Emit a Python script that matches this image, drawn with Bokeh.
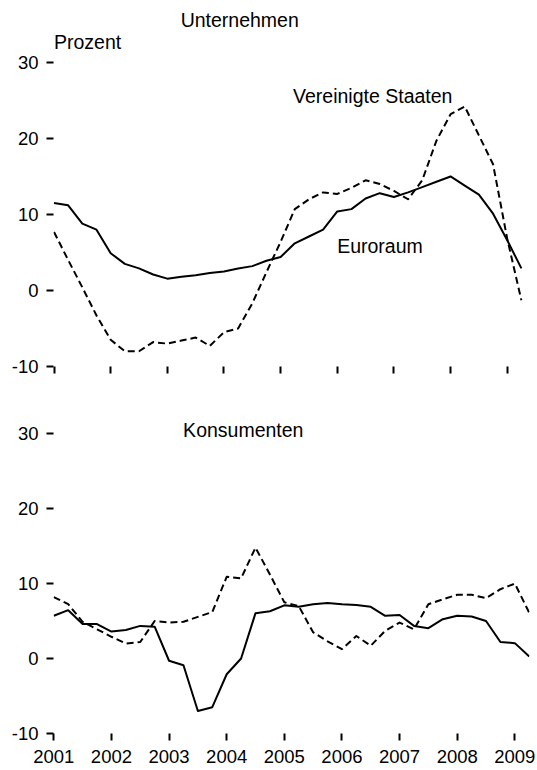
from bokeh.plotting import figure
from bokeh.layouts import column
from bokeh.models import Range1d, FixedTicker
from bokeh.core.properties import value
from bokeh.embed import file_html
from bokeh.resources import INLINE

# quarterly observation dates
quarters = [2001.0, 2001.25, 2001.5, 2001.75, 2002.0, 2002.25, 2002.5, 2002.75,
            2003.0, 2003.25, 2003.5, 2003.75, 2004.0, 2004.25, 2004.5, 2004.75,
            2005.0, 2005.25, 2005.5, 2005.75, 2006.0, 2006.25, 2006.5, 2006.75,
            2007.0, 2007.25, 2007.5, 2007.75, 2008.0, 2008.25, 2008.5, 2008.75,
            2009.0, 2009.25]

# Unternehmen (firms)
firms_euro = [11.5, 11.2, 8.8, 8.0, 4.9, 3.5, 2.9, 2.1,
              1.55, 1.8, 2.0, 2.3, 2.5, 2.9, 3.2, 3.9,
              4.4, 6.2, 7.1, 8.0, 10.4, 10.7, 12.1, 12.8,
              12.3, 12.9, 13.6, 14.3, 15.0, 13.8, 12.6, 10.1,
              6.6, 2.9]
firms_us = [7.7, 4.0, 0.4, -3.3, -6.5, -8.0, -8.0, -6.8,
            -7.0, -6.6, -6.2, -7.3, -5.5, -5.0, -1.7, 2.4,
            6.4, 10.7, 12.0, 12.9, 12.7, 13.5, 14.5, 14.0,
            13.1, 12.0, 14.5, 19.7, 23.2, 24.2, 20.4, 16.6,
            6.8, -1.3]

# Konsumenten (consumers)
cons_euro = [5.7, 6.45, 4.6, 4.6, 3.6, 3.8, 4.35, 4.25,
             -0.3, -0.9, -7.0, -6.5, -2.1, 0.0, 6.05, 6.3,
             7.1, 6.9, 7.25, 7.4, 7.25, 7.15, 6.9, 5.7,
             5.8, 4.35, 4.05, 5.25, 5.7, 5.6, 5.0, 2.2,
             2.05, 0.27]
cons_us = [8.2, 7.25, 4.9, 3.9, 2.9, 2.0, 2.2, 5.0,
           4.8, 4.9, 5.55, 6.2, 10.9, 10.7, 14.8, 11.2,
           7.5, 7.0, 3.5, 2.3, 1.25, 3.0, 1.7, 3.7,
           4.8, 3.9, 7.25, 7.9, 8.5, 8.5, 8.05, 9.25,
           10.0, 6.1]

year_ticks = [2001, 2002, 2003, 2004, 2005, 2006, 2007, 2008, 2009]
year_labels = ["2001", "2002", "2003", "2004", "2005", "2006", "2007", "2008", "2009"]
y_ticks = [-10, 0, 10, 20, 30]
y_labels = ["-10", "0", "10", "20", "30"]

TICK_FONT = "Liberation Sans"
TEXT_FONT = "Liberation Sans"


def make_fig(x_range, y_range, height, border_top, border_bottom, show_x_labels):
    p = figure(width=537, height=height, x_range=x_range, y_range=y_range,
               output_backend="svg", toolbar_location=None,
               min_border_left=53, min_border_right=8, min_border_top=border_top,
               min_border_bottom=border_bottom)
    p.outline_line_color = None
    p.grid.visible = False
    p.background_fill_color = "white"
    p.border_fill_color = "white"

    p.yaxis.ticker = FixedTicker(ticks=y_ticks)
    p.yaxis.major_label_overrides = {t: l for t, l in zip(y_ticks, y_labels)}
    p.xaxis.ticker = FixedTicker(ticks=year_ticks)
    p.xaxis.major_label_overrides = {t: (l if show_x_labels else "") for t, l in zip(year_ticks, year_labels)}
    for ax in (p.xaxis, p.yaxis):
        ax.axis_line_color = None
        ax.major_tick_in = 0
        ax.major_tick_out = 7
        ax.major_tick_line_width = 2
        ax.major_tick_line_color = "black"
        ax.minor_tick_line_color = None
        ax.major_label_text_font = TICK_FONT
        ax.major_label_text_font_size = "18.5px"
        ax.major_label_text_color = "black"
    p.yaxis.major_label_standoff = 8
    if show_x_labels:
        p.xaxis.major_label_standoff = 9
    else:
        p.xaxis.major_label_standoff = 0
        p.xaxis.major_label_text_font_size = "0px"
    return p


# ---- top panel: Unternehmen ----
p1 = make_fig(Range1d(2000.991, 2009.393), Range1d(-10.01, 37.105), 384, 8, 18, False)
p1.line(quarters, firms_euro, line_color="black", line_width=2, line_join="round")
p1.line(quarters, firms_us, line_color="black", line_width=2, line_dash="7 4", line_join="round")
p1.text(x=[2004.278], y=[35.55], text=["Unternehmen"], text_font=value(TEXT_FONT),
        text_font_size="19.5px", text_align="center", text_baseline="alphabetic", text_color="black")
p1.text(x=[2001.0], y=[32.65], text=["Prozent"], text_font=value(TEXT_FONT),
        text_font_size="19.5px", text_align="left", text_baseline="alphabetic", text_color="black")
p1.text(x=[2006.626], y=[25.55], text=["Vereinigte Staaten"], text_font=value(TEXT_FONT),
        text_font_size="19.5px", text_align="center", text_baseline="alphabetic", text_color="black")
p1.text(x=[2006.754], y=[5.9], text=["Euroraum"], text_font=value(TEXT_FONT),
        text_font_size="19.5px", text_align="center", text_baseline="alphabetic", text_color="black")

# ---- bottom panel: Konsumenten ----
p2 = make_fig(Range1d(2000.9948, 2009.2544), Range1d(-10.01, 36.57), 386, 0, 37, True)
p2.line(quarters, cons_euro, line_color="black", line_width=2, line_join="round")
p2.line(quarters, cons_us, line_color="black", line_width=2, line_dash="7 4", line_join="round")
p2.text(x=[2004.288], y=[30.5], text=["Konsumenten"], text_font=value(TEXT_FONT),
        text_font_size="19.5px", text_align="center", text_baseline="alphabetic", text_color="black")

layout = column(p1, p2, spacing=0)
open("out.html", "w").write(file_html(layout, INLINE))
